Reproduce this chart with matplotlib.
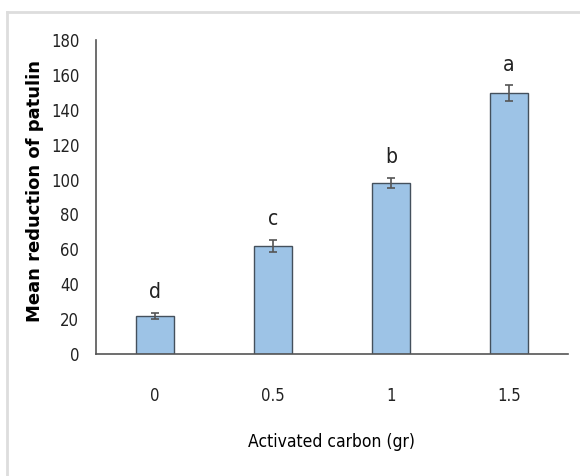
import numpy as np
import matplotlib.pyplot as plt
from matplotlib.lines import Line2D
from matplotlib import font_manager

categories = ['0', '0.5', '1', '1.5']
means = [21.8, 62.0, 98.0, 149.5]
errors = [1.8, 3.5, 3.0, 4.5]
letters = ['d', 'c', 'b', 'a']

names = set(f.name for f in font_manager.fontManager.ttflist)
if 'DejaVu Sans Condensed' in names:
    narrow = ['DejaVu Sans Condensed', 'DejaVu Sans']
else:
    narrow = ['DejaVu Sans']

fig = plt.figure(figsize=(5.8, 4.76), dpi=100)
ax = fig.add_axes([0.1655, 0.2563, 0.8135, 0.6597])

x = np.arange(len(categories))
ax.bar(x, means, width=0.32, color='#9dc3e6', edgecolor='#44505c', linewidth=1.0, zorder=2)
ax.errorbar(x, means, yerr=errors, fmt='none', ecolor='#555555', elinewidth=1.2,
            capsize=3, capthick=1.2, zorder=3)
for xi, m, e, lab in zip(x, means, errors, letters):
    ax.text(xi, m + e + 6, lab, ha='center', va='bottom', fontsize=15, family=narrow,
            stretch='condensed', color='#222222')

ax.set_xlim(-0.5, 3.5)
ax.set_ylim(0, 180)
ax.set_yticks(np.arange(0, 181, 20))
ax.set_xticks(x)
ax.set_xticklabels(categories)
ax.tick_params(axis='both', length=0, labelsize=12, colors='#222222')
ax.tick_params(axis='y', pad=12)
ax.tick_params(axis='x', pad=24)
for lab in ax.get_xticklabels() + ax.get_yticklabels():
    lab.set_family(narrow)
    lab.set_stretch('condensed')

for s in ['top', 'right']:
    ax.spines[s].set_visible(False)
for s in ['left', 'bottom']:
    ax.spines[s].set_color('#555555')
    ax.spines[s].set_linewidth(1.2)

ax.set_xlabel('Activated carbon (gr)', fontsize=12.5, family=narrow, stretch='condensed', labelpad=20)
ax.set_ylabel('Mean reduction of patulin', fontsize=13, fontweight='bold', family='DejaVu Sans')
ax.yaxis.set_label_coords(-0.11, 0.52)

# light frame around the chart area
fig.add_artist(Line2D([7 / 580, 1], [1 - 12 / 476, 1 - 12 / 476], color='#dddddd', lw=2, transform=fig.transFigure))
fig.add_artist(Line2D([7 / 580, 7 / 580], [0, 1 - 12 / 476], color='#dddddd', lw=2, transform=fig.transFigure))

fig.savefig('out.png', dpi=100)
